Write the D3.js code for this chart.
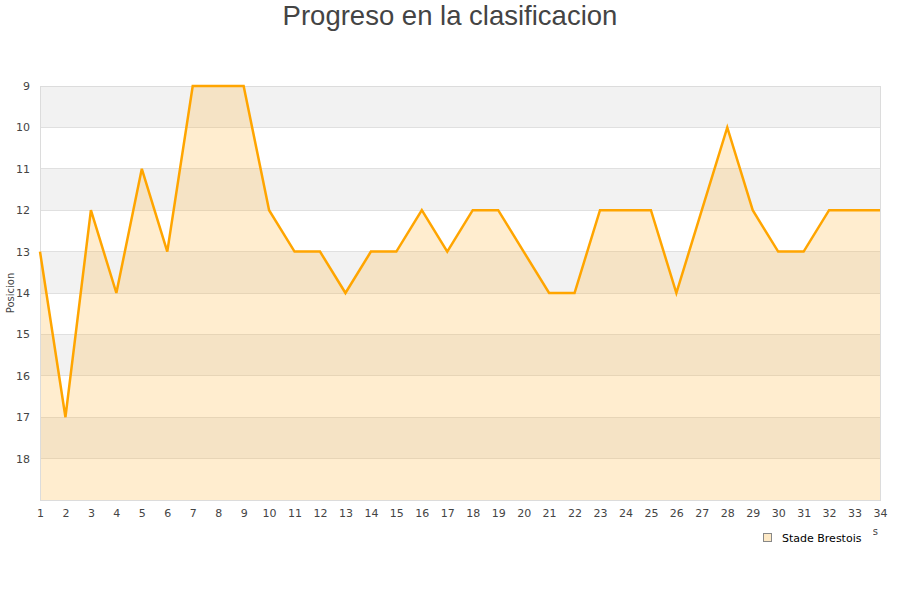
<!DOCTYPE html>
<html><head><meta charset="utf-8">
<script src="https://cdn.jsdelivr.net/npm/d3@7"></script>
<style>body{margin:0;background:#fff}svg{display:block}</style>
</head><body>
<svg id="c" width="900" height="600"></svg>
<script>
const jornadas = d3.range(1, 35);
const posiciones = [13,17,12,14,11,13,9,9,9,12,13,13,14,13,13,12,13,12,12,13,14,14,12,12,12,14,12,10,12,13,13,12,12,12];
const yTicks = [9,10,11,12,13,14,15,16,17,18];
const titleText = "Progreso en la clasificacion";
const seriesName = "Stade Brestois";

const svg = d3.select("#c");
const m = {l:40, r:20, t:86, b:100};
const W = 900, H = 600;
const x = d3.scaleLinear().domain([1,34]).range([m.l, W-m.r]);
const y = d3.scaleLinear().domain([9,19]).range([m.t, H-m.b]);

// bands
const bands = d3.range(9,19);
svg.append("g").selectAll("rect").data(bands).join("rect")
  .attr("x", m.l).attr("width", W-m.r-m.l)
  .attr("y", d=>y(d)).attr("height", d=>y(d+1)-y(d))
  .attr("fill", d=> (d%2===1) ? "#f2f2f2" : "#ffffff");

// grid
svg.append("g").selectAll("line").data(d3.range(9,20)).join("line")
  .attr("x1", m.l).attr("x2", W-m.r).attr("y1", d=>y(d)).attr("y2", d=>y(d))
  .attr("stroke", "#e0e0e0").attr("stroke-width", 1).attr("shape-rendering","crispEdges");

// area
const area = d3.area().x((d,i)=>x(jornadas[i])).y0(y(19)).y1(d=>y(d));
svg.append("path").datum(posiciones).attr("d", area)
  .attr("fill", "rgb(255,177,46)").attr("fill-opacity", 0.23);

// border
svg.append("rect").attr("x", m.l).attr("y", m.t).attr("width", W-m.r-m.l).attr("height", H-m.b-m.t)
  .attr("fill","none").attr("stroke","#dcdcdc").attr("shape-rendering","crispEdges");

// line
const line = d3.line().x((d,i)=>x(jornadas[i])).y(d=>y(d));
svg.append("path").datum(posiciones).attr("d", line)
  .attr("fill","none").attr("stroke","#ffa500").attr("stroke-width",2.5).attr("stroke-linejoin","miter");

// axes
const yAxis = d3.axisLeft(y).tickValues(yTicks).tickSize(0).tickPadding(10);
const gy = svg.append("g").attr("transform",`translate(${m.l},0)`).call(yAxis);
gy.select(".domain").remove();
gy.selectAll("text").attr("font-family","DejaVu Sans").attr("font-size",11).attr("fill","#444");

const xAxis = d3.axisBottom(x).tickValues(jornadas).tickSize(0).tickPadding(9).tickFormat(d3.format("d"));
const gx = svg.append("g").attr("transform",`translate(0,${H-m.b})`).call(xAxis);
gx.select(".domain").remove();
gx.selectAll("text").attr("font-family","DejaVu Sans").attr("font-size",11).attr("fill","#444");

// axis titles
svg.append("text").attr("transform",`translate(14,${y(14)}) rotate(-90)`)
  .attr("text-anchor","middle").attr("font-family","DejaVu Sans").attr("font-size",10).attr("fill","#444")
  .text("Posicion");
svg.append("text").attr("x", W-m.r-2).attr("y", 535).attr("text-anchor","end")
  .attr("font-family","DejaVu Sans").attr("font-size",10).attr("fill","#444").text("Jornadas");

// legend
const lg = svg.append("g");
lg.append("rect").attr("x",752).attr("y",527).attr("width",121).attr("height",23).attr("fill","#fff");
lg.append("rect").attr("x",763.5).attr("y",533.5).attr("width",8).attr("height",8)
  .attr("fill","#fde9c6").attr("stroke","#888").attr("stroke-width",1);
lg.append("text").attr("x",782).attr("y",541.5).attr("font-family","DejaVu Sans").attr("font-size",11)
  .attr("fill","#000").text(seriesName);

// title
svg.append("text").attr("x", W/2).attr("y", 25).attr("text-anchor","middle")
  .attr("font-family","Liberation Sans, Arial, sans-serif").attr("font-size",27.5).attr("fill","#444")
  .text(titleText);
</script>
</body></html>
